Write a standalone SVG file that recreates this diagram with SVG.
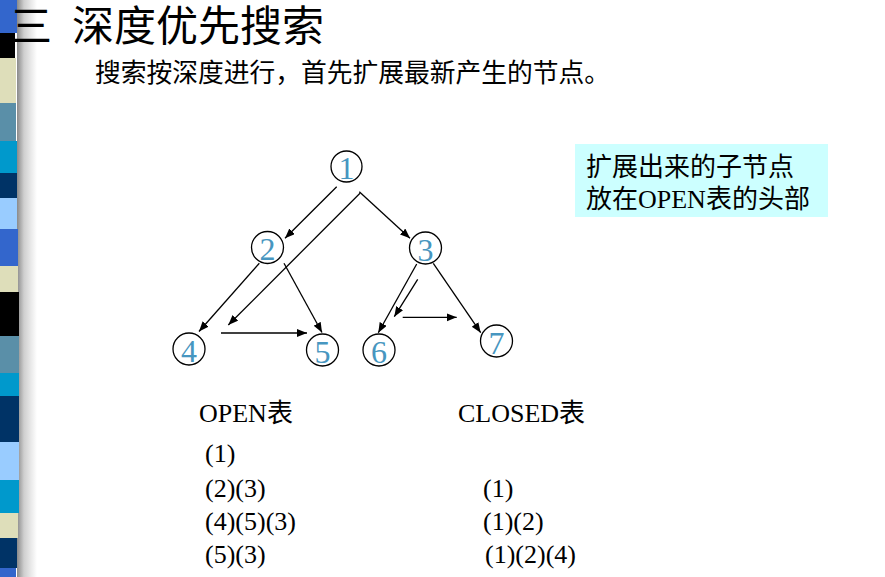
<svg xmlns="http://www.w3.org/2000/svg" width="885" height="577" viewBox="0 0 885 577">
<defs>
<linearGradient id="shadow" x1="0" y1="0" x2="1" y2="0">
<stop offset="0" stop-color="#8a8a8a"/>
<stop offset="0.35" stop-color="#cfcfcf"/>
<stop offset="1" stop-color="#ffffff"/>
</linearGradient>
<marker id="arr" markerUnits="userSpaceOnUse" markerWidth="11" markerHeight="9" refX="10" refY="4" orient="auto">
<path d="M0,0 L10,4 L0,8 z" fill="#000"/>
</marker>
</defs>
<style>
.cjk{font-family:"Liberation Serif","Noto Sans CJK SC",serif;fill:#000}
.lat{font-family:"Liberation Serif","Noto Sans CJK SC",serif;fill:#000;font-size:26px}
.node circle{fill:#fff;stroke:#000;stroke-width:1.3}
.node text{font-family:"Liberation Serif",serif;font-size:32px;fill:#4796C0;text-anchor:middle}
.edges line{stroke:#000;stroke-width:1.3;marker-end:url(#arr)}
</style>
<rect width="885" height="577" fill="#fff"/>
<g id="stripe">
<rect x="17" y="0" width="20" height="577" fill="url(#shadow)"/>
<rect x="0" y="0" width="17" height="33" fill="#3366CC"/>
<rect x="0" y="33" width="15" height="25" fill="#000"/>
<rect x="0" y="58" width="16" height="45" fill="#DEDEBA"/>
<rect x="0" y="103" width="16" height="38" fill="#5A8FA8"/>
<rect x="0" y="141" width="17" height="32" fill="#0099CC"/>
<rect x="0" y="173" width="17" height="25" fill="#003366"/>
<rect x="0" y="198" width="17" height="31" fill="#99CCFF"/>
<rect x="0" y="229" width="18" height="37" fill="#3366CC"/>
<rect x="0" y="266" width="18" height="26" fill="#DEDEBA"/>
<rect x="0" y="292" width="19" height="44" fill="#000"/>
<rect x="0" y="336" width="19" height="37" fill="#5A8FA8"/>
<rect x="0" y="373" width="19" height="23" fill="#0099CC"/>
<rect x="0" y="396" width="19" height="46" fill="#003366"/>
<rect x="0" y="442" width="19" height="38" fill="#99CCFF"/>
<rect x="0" y="480" width="19" height="33" fill="#0099CC"/>
<rect x="0" y="513" width="18" height="25" fill="#DEDEBA"/>
<rect x="0" y="538" width="17" height="30" fill="#003366"/>
<rect x="0" y="568" width="16" height="9" fill="#3366CC"/>
</g>
<g id="title">
<text class="cjk" x="10" y="41" font-size="42">三</text>
<text class="cjk" x="72" y="41" font-size="42">深度优先搜索</text>
<text class="cjk" x="95" y="82" font-size="25.75">搜索按深度进行，首先扩展最新产生的节点。</text>
</g>
<g id="note">
<rect x="575" y="144" width="253" height="73" fill="#CCFFFF"/>
<text class="cjk" x="586" y="176" font-size="26">扩展出来的子节点</text>
<text class="cjk" x="586" y="208" font-size="26">放在OPEN表的头部</text>
</g>
<g class="edges" id="connectors">
<line x1="336.7" y1="186.7" x2="285" y2="238.3"/>
<line x1="359.3" y1="191.7" x2="410" y2="238.3"/>
<line x1="360" y1="193.3" x2="228.3" y2="325"/>
<line x1="259.3" y1="263.3" x2="199" y2="331.5"/>
<line x1="284" y1="263.3" x2="322" y2="332.5"/>
<line x1="221" y1="333" x2="307" y2="333"/>
<line x1="416.7" y1="264" x2="378.3" y2="332.7"/>
<line x1="417.7" y1="279.3" x2="394.3" y2="316.7"/>
<line x1="402.7" y1="317.3" x2="456.7" y2="317.3"/>
<line x1="433.3" y1="263.3" x2="480.7" y2="332.7"/>
</g>
<g class="node" id="n1"><circle cx="346.5" cy="166.5" r="15.5"/><text x="346.5" y="179">1</text></g>
<g class="node" id="n2"><circle cx="267.5" cy="247.5" r="16"/><text x="267.5" y="260">2</text></g>
<g class="node" id="n3"><circle cx="425.5" cy="248" r="16"/><text x="425.5" y="260.5">3</text></g>
<g class="node" id="n4"><circle cx="189" cy="349" r="16"/><text x="189" y="361.5">4</text></g>
<g class="node" id="n5"><circle cx="322.5" cy="350" r="16"/><text x="322.5" y="362.5">5</text></g>
<g class="node" id="n6"><circle cx="379" cy="350" r="16"/><text x="379" y="362.5">6</text></g>
<g class="node" id="n7"><circle cx="496.5" cy="341" r="16"/><text x="496.5" y="353.5">7</text></g>
<g id="open-table">
<text class="lat" x="199" y="422">OPEN表</text>
<text class="lat" x="205" y="462">(1)</text>
<text class="lat" x="205" y="497">(2)(3)</text>
<text class="lat" x="205" y="530">(4)(5)(3)</text>
<text class="lat" x="205" y="563">(5)(3)</text>
</g>
<g id="closed-table">
<text class="lat" x="458" y="422">CLOSED表</text>
<text class="lat" x="483" y="497">(1)</text>
<text class="lat" x="483" y="530">(1)(2)</text>
<text class="lat" x="485" y="563">(1)(2)(4)</text>
</g>
</svg>
